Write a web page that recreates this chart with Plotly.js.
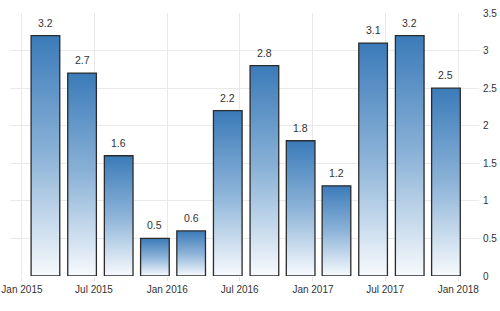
<!DOCTYPE html>
<html>
<head>
<meta charset="utf-8">
<script src="https://cdn.plot.ly/plotly-3.0.1.min.js"></script>
<style>html,body{margin:0;padding:0;background:#fff;}#chart{width:500px;height:311px;}</style>
</head>
<body>
<div id="chart"></div>
<script>
var periods = ['2015-03-01','2015-06-01','2015-09-01','2015-12-01','2016-03-01','2016-06-01','2016-09-01','2016-12-01','2017-03-01','2017-06-01','2017-09-01','2017-12-01'];
var values = [3.2, 2.7, 1.6, 0.5, 0.6, 2.2, 2.8, 1.8, 1.2, 3.1, 3.2, 2.5];
var yTicks = [0, 0.5, 1, 1.5, 2, 2.5, 3, 3.5];
var yTickLabels = ['0', '0.5', '1', '1.5', '2', '2.5', '3', '3.5'];

var font = '"Liberation Sans Narrow", "Arial Narrow", "Liberation Sans", Arial, sans-serif';

var trace = {
  type: 'bar',
  x: periods,
  y: values,
  marker: {color: '#5b93c8', line: {color: '#2b2b2b', width: 1.3}},
  hoverinfo: 'none'
};

var annotations = periods.map(function (p, i) {
  return {
    x: p, y: values[i], text: String(values[i]),
    showarrow: false, yanchor: 'bottom', yshift: 5,
    font: {family: font, size: 10.5, color: '#333'}
  };
});

var layout = {
  width: 500, height: 311,
  margin: {l: 10, r: 21, t: 13, b: 35},
  paper_bgcolor: '#fff', plot_bgcolor: '#fff',
  bargap: 0.2,
  showlegend: false,
  xaxis: {
    type: 'date',
    range: ['2014-12-02', '2018-02-22'],
    tick0: '2015-01-01', dtick: 'M6', tickformat: '%b %Y',
    showgrid: true, gridcolor: '#e9e9e9', gridwidth: 1,
    ticks: 'outside', ticklen: 4, tickcolor: '#e4e4e4',
    showline: false, zeroline: false,
    ticklabeloverflow: 'allow',
    tickfont: {family: font, size: 10, color: '#333'}
  },
  yaxis: {
    side: 'right',
    range: [0, 3.5],
    tickvals: yTicks, ticktext: yTickLabels,
    showgrid: true, gridcolor: '#e9e9e9', gridwidth: 1,
    zeroline: false, showline: false,
    ticks: '', ticklabelstandoff: 3,
    tickfont: {family: font, size: 10, color: '#333'}
  },
  annotations: annotations
};

Plotly.newPlot('chart', [trace], layout, {staticPlot: true, displayModeBar: false}).then(function (gd) {
  var svg = gd.querySelector('svg.main-svg');
  var defs = svg.querySelector('defs');
  var ns = 'http://www.w3.org/2000/svg';
  var grad = document.createElementNS(ns, 'linearGradient');
  grad.setAttribute('id', 'barGrad');
  grad.setAttribute('x1', '0'); grad.setAttribute('y1', '0');
  grad.setAttribute('x2', '0'); grad.setAttribute('y2', '1');
  [['0', '#3b7bb9'], ['0.5', '#8cb3d8'], ['1', '#f7fafd']].forEach(function (s) {
    var st = document.createElementNS(ns, 'stop');
    st.setAttribute('offset', s[0]);
    st.setAttribute('stop-color', s[1]);
    grad.appendChild(st);
  });
  defs.appendChild(grad);
  gd.querySelectorAll('.trace.bars .point path').forEach(function (p) {
    p.style.fill = 'url(#barGrad)';
  });
});
</script>
</body>
</html>
